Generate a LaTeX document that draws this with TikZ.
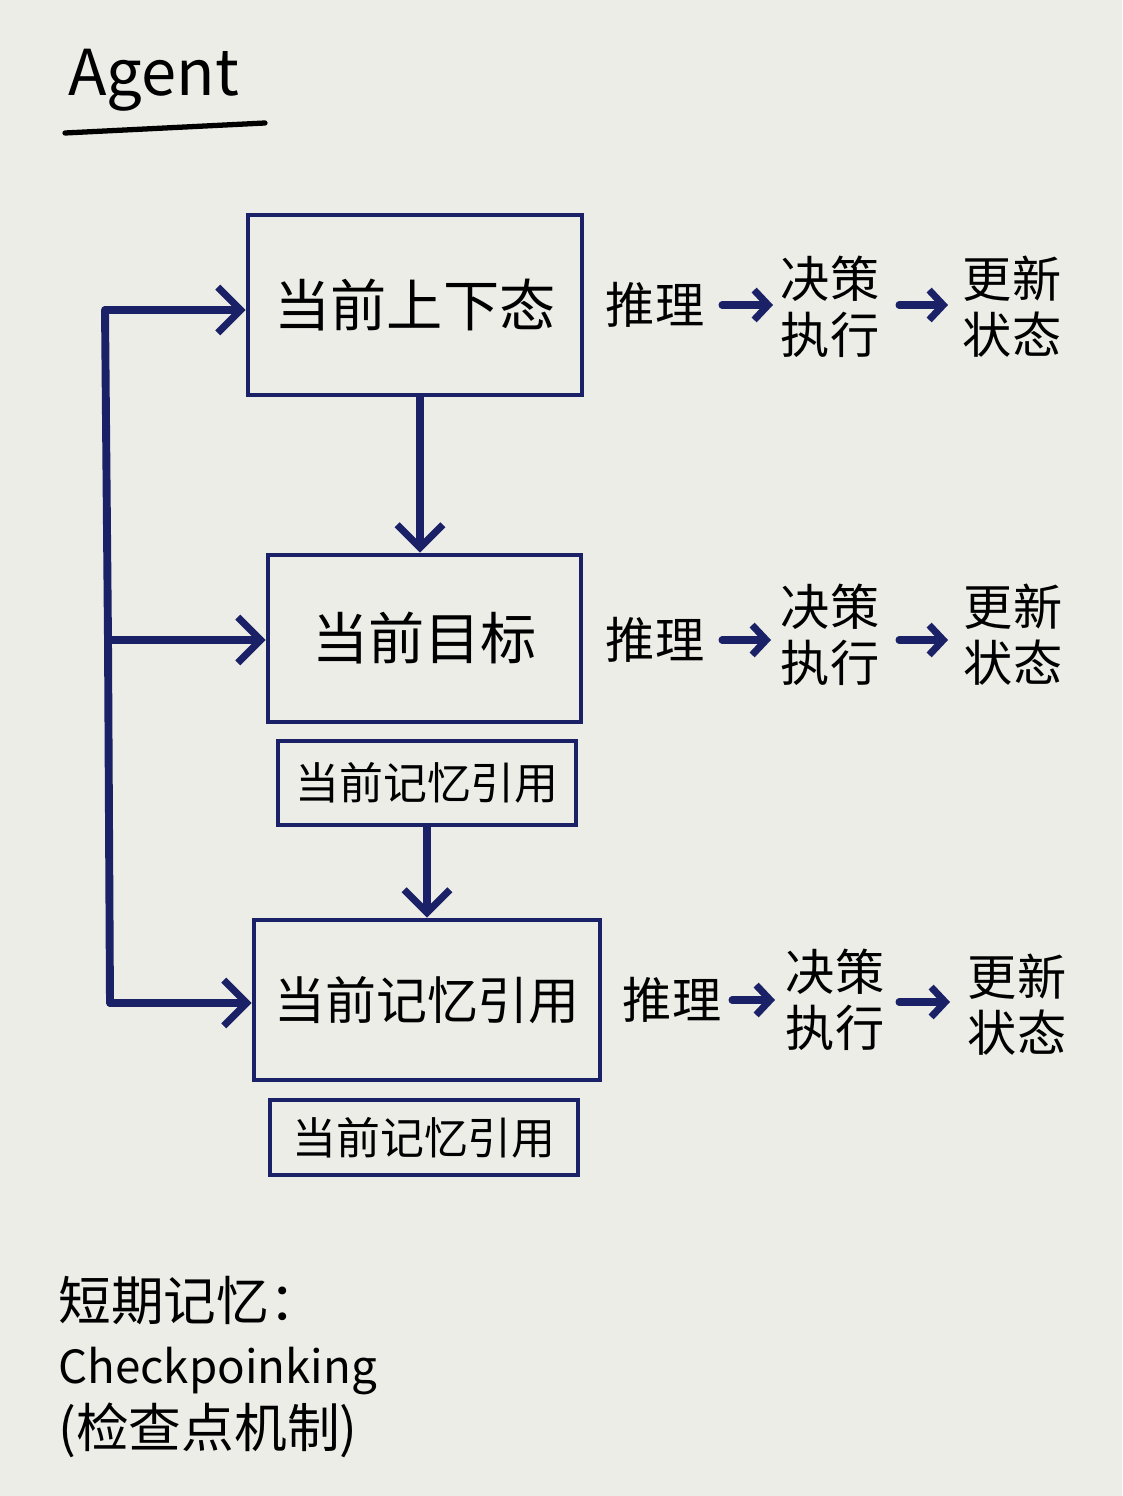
\documentclass[tikz,border=0pt]{standalone}
\usepackage{fontspec}
\newfontfamily\cjk{Noto Sans CJK SC}
\usetikzlibrary{arrows.meta}
\definecolor{bg}{HTML}{EDEDE8}
\definecolor{ink}{HTML}{1B2166}
\tikzset{
  box/.style={draw=ink, line width=2.8pt, inner sep=0pt, font=\cjk\fontsize{32}{36}\selectfont},
  smallbox/.style={draw=ink, line width=2.6pt, inner sep=0pt, font=\cjk\fontsize{25}{28}\selectfont},
  side/.style={font=\cjk\fontsize{28}{32}\selectfont, align=center, inner sep=0pt},
  bigarrow/.style={draw=ink, line width=4pt, line cap=round, -{Straight Barb[length=13pt,width=26pt,line width=4pt]}},
  smallarrow/.style={draw=ink, line width=4pt, line cap=round, -{Straight Barb[length=8pt,width=17pt,line width=4pt]}},
  trunk/.style={draw=ink, line width=4.5pt, line cap=round, line join=round}
}
\begin{document}
\begin{tikzpicture}[x=0.02cm, y=-0.02cm]
\fill[bg] (0,0) rectangle (1122,1496);
\useasboundingbox (0,0) rectangle (1122,1496);
% title
\node[font=\cjk\fontsize{36}{40}\selectfont, anchor=west, inner sep=0pt] (title) at (68,80) {Agent};
\draw[line width=3pt, line cap=round] (65,133) -- (265,123);
% main boxes
\node[box, minimum width=6.68cm, minimum height=3.6cm] (b1) at (415,305) {当前上下态};
\node[box, minimum width=6.26cm, minimum height=3.34cm] (b2) at (424.5,638.5) {当前目标};
\node[smallbox, minimum width=5.96cm, minimum height=1.68cm] (s1) at (427,783) {当前记忆引用};
\node[box, minimum width=6.92cm, minimum height=3.2cm, font=\cjk\fontsize{29}{34}\selectfont] (b3) at (427,1000) {当前记忆引用};
\node[smallbox, minimum width=6.16cm, minimum height=1.5cm] (s2) at (424,1137.5) {当前记忆引用};
% vertical arrows
\draw[bigarrow] ([xshift=0.1cm]b1.south) -- ([xshift=0.1cm]b1.south |- b2.north);
\draw[bigarrow] (s1.south) -- (s1.south |- b3.north);
% left trunk
\coordinate (t1) at (105,310);
\coordinate (t2) at (108,640);
\coordinate (t3) at (110,1003);
\draw[trunk] (t1) -- (t2) -- (t3);
\draw[bigarrow] (t1) -- (t1 -| b1.west);
\draw[bigarrow] (t2) -- (t2 -| b2.west);
\draw[bigarrow] (t3) -- (t3 -| b3.west);
% row 1
\node[side] (r1a) at (655,305) {推理};
\node[side] (r1b) at (830,307) {决策\\执行};
\node[side] (r1c) at (1012,307) {更新\\状态};
% row 2
\node[side] (r2a) at (655,640) {推理};
\node[side] (r2b) at (830,635) {决策\\执行};
\node[side] (r2c) at (1013,635) {更新\\状态};
% row 3
\node[side] (r3a) at (672,1000) {推理};
\node[side] (r3b) at (835,1000) {决策\\执行};
\node[side] (r3c) at (1017,1005) {更新\\状态};
% small arrows
\coordinate (p1) at (722,305); \coordinate (q1) at (773,305);
\coordinate (p2) at (899,305); \coordinate (q2) at (948,305);
\coordinate (p3) at (722,640); \coordinate (q3) at (771,640);
\coordinate (p4) at (899,640); \coordinate (q4) at (948,640);
\coordinate (p5) at (732,1000); \coordinate (q5) at (775,1000);
\coordinate (p6) at (899,1002); \coordinate (q6) at (950,1002);
\foreach \i in {1,...,6} {\draw[smallarrow] (p\i) -- (q\i);}
% bottom text
\node[font=\cjk\fontsize{30}{36}\selectfont, anchor=north west, align=left, inner sep=0pt] (note) at (58,1276) {短期记忆：\\{\fontsize{26}{36}\selectfont Checkpoinking}\\(检查点机制)};
\end{tikzpicture}
\end{document}
